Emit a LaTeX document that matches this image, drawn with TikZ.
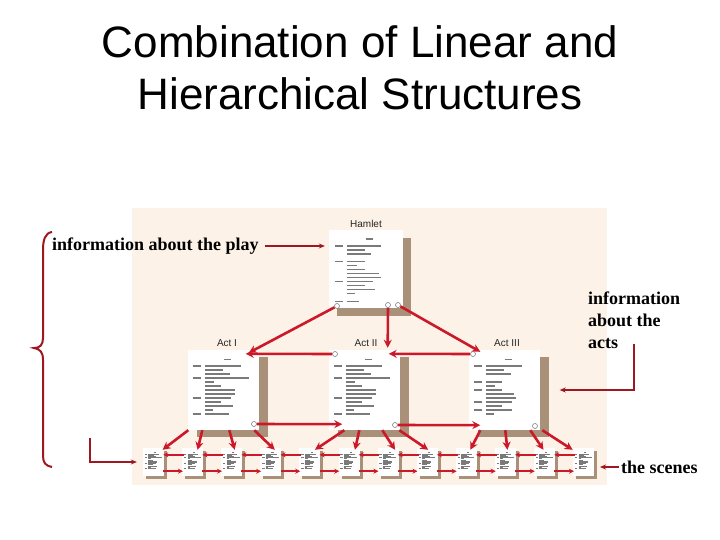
\documentclass[tikz,border=0pt]{standalone}
\usepackage{fontspec}
\setmainfont{Liberation Serif}
\setsansfont{Liberation Sans}
\usepackage{tikz}
\usetikzlibrary{arrows.meta,positioning,shadows}
\definecolor{arrred}{rgb}{0.80,0.10,0.16}
\definecolor{notered}{rgb}{0.62,0.09,0.13}
\definecolor{paper}{rgb}{0.99,0.95,0.91}
\definecolor{shade}{rgb}{0.66,0.57,0.47}
\definecolor{inkgray}{rgb}{0.48,0.48,0.48}
% rows of the pseudo text on the pages
\newcommand{\lntitle}{\par\noindent\hspace*{31pt}\rule{7pt}{1.5pt}\par\vspace{2.5pt}}
\newcommand{\lnhead}[1]{\par\noindent\rule{8pt}{1.5pt}\hspace{4pt}\rule{#1pt}{1.5pt}}
\newcommand{\lnmore}[1]{\par\noindent\hspace*{12pt}\rule{#1pt}{1.5pt}}
\newcommand{\lngap}{\par\vspace{4pt}}
\newcommand{\hamtext}{\lntitle
  \lnhead{34}\lnmore{18}\lnmore{24}\lngap
  \lnhead{18}\lnmore{10}\lnmore{18}\lnmore{32}\lnmore{34}
  \lnhead{26}\lnmore{18}\lnmore{28}\lnmore{8}\lngap
  \lnhead{12}}
\newcommand{\acttext}{\lntitle
  \lnhead{36}\lnmore{18}\lnmore{25}
  \lnhead{44}\lnmore{9}\lnmore{16}\lnmore{30}\lnmore{30}
  \lnhead{26}\lnmore{16}\lnmore{28}\lnmore{8}
  \lnhead{24}}
\newcommand{\actthreetext}{\lntitle
  \lnhead{36}\lnmore{18}\lnmore{25}\lngap
  \lnhead{16}\lnmore{9}
  \lnhead{16}\lnmore{28}\lnmore{30}
  \lnhead{26}\lnmore{16}
  \lnhead{26}\lnmore{8}}

\begin{document}
\begin{tikzpicture}[x=1pt, y=-1pt,
  hampage/.style={rectangle, fill=white, minimum width=74pt, minimum height=78pt, inner sep=0pt,
                  drop shadow={shadow xshift=8pt, shadow yshift=-8pt, fill=shade, opacity=1}},
  actpage/.style={rectangle, fill=white, minimum width=71pt, minimum height=80pt, inner sep=0pt,
                  drop shadow={shadow xshift=9pt, shadow yshift=-7pt, fill=shade, opacity=1}},
  scene/.style={rectangle, fill=white, minimum width=21pt, minimum height=28pt, inner sep=0pt,
                drop shadow={shadow xshift=3pt, shadow yshift=-3pt, fill=shade, opacity=1}},
  pagetext/.style={text width=58pt, align=left, inner sep=0pt, color=inkgray,
                   font=\fontsize{3}{4}\selectfont},
  hole/.style={circle, draw=gray, fill=white, line width=0.6pt, inner sep=0pt, minimum size=5pt},
  lbl/.style={font=\sffamily\fontsize{10}{12}\selectfont, text=black!85, inner sep=1pt},
  note/.style={font=\bfseries\fontsize{18}{22}\selectfont, inner sep=0pt},
  arr/.style={-{Stealth[length=8pt,width=8pt]}, line width=2.6pt, draw=arrred},
  sarr/.style={-{Stealth[length=5pt,width=5pt]}, line width=1.8pt, draw=arrred},
  notearr/.style={-{Stealth[length=6pt,width=5pt]}, line width=1.6pt, draw=notered},
]
\useasboundingbox (0,0) rectangle (720,540);
\fill[white] (0,0) rectangle (720,540);

% title
\node[font=\sffamily\fontsize{44}{52}\selectfont, align=center, inner sep=0pt, anchor=north]
  (title) at (360,25) {Combination of Linear and\\Hierarchical Structures};

% the board
\fill[paper] (132,208) rectangle (607,485);

% pages
\node[hampage] (hamlet) at (366,269) {};
\node[lbl, above=1pt of hamlet] (hamlab) {Hamlet};
\node[pagetext, anchor=north west] (hamtxt) at ([shift={(6,6)}]hamlet.north west) {\hamtext};

\node[actpage] (act1) at (223,390) {};
\node[actpage] (act2) at (364,390) {};
\node[actpage] (act3) at (504,390) {};
\node[lbl, above=2pt of act1, xshift=4pt] (lab1) {Act I};
\node[lbl, above=2pt of act2, xshift=2pt] (lab2) {Act II};
\node[lbl, above=2pt of act3, xshift=3pt] (lab3) {Act III};
\node[pagetext, anchor=north west] (txt1) at ([shift={(5,6)}]act1.north west) {\acttext};
\node[pagetext, anchor=north west] (txt2) at ([shift={(5,6)}]act2.north west) {\acttext};
\node[pagetext, anchor=north west] (txt3) at ([shift={(5,6)}]act3.north west) {\actthreetext};

\foreach \i in {1,...,12} {
  \node[scene] (s\i) at ({153.5+39.1*(\i-1)},462) {};
  \node[pagetext, scale=0.3, anchor=north west] (st\i) at ([shift={(2,3)}]s\i.north west) {\acttext};
}

% holes
\node[hole] (h1) at (337,306) {};
\node[hole] (h2) at (388,305) {};
\node[hole] (h3) at (398,305) {};
\node[hole] (a1b) at (254,424) {};
\node[hole] (a2t) at (335,354) {};
\node[hole] (a2b) at (395,425) {};
\node[hole] (a3t) at (473,354) {};
\node[hole] (a3b) at (535,426) {};

% hierarchy
\draw[arr] (h1) -- ([shift={(-10,3)}]act1.north east);
\draw[arr] (h2) -- ([shift={(-12,-2)}]act2.north east);
\draw[arr] (h3) -- ([shift={(12,2)}]act3.north west);
\draw[arr] (a2t) -- ([shift={(-13,4)}]act1.north east);
\draw[arr] (a3t) -- ([shift={(-11,4)}]act2.north east);
\draw[arr] (a1b) -- ([shift={(14,-6)}]act2.south west);
\draw[arr] (a2b) -- ([shift={(12,-5)}]act3.south west);

\foreach \a/\sx/\s/\ex in {act1/1/1/9, act1/15/2/5, act1/42/3/3, act1/67/4/4,
                           act2/16/5/5, act2/31/6/6, act2/54/7/7, act2/71/8/1,
                           act3/12/9/4, act3/37/10/2, act3/62/11/-1, act3/74/12/-11}
  \draw[arr] ([xshift=\sx pt]\a.south west) -- ([shift={(\ex,2)}]s\s.north);

% scenes in a row
\foreach \i [evaluate=\i as \j using int(\i+1)] in {1,...,11} {
  \draw[sarr] ([shift={(2,7)}]s\j.north west) -- ([shift={(-1,7)}]s\i.north east);
  \draw[sarr] ([shift={(-1,-5)}]s\i.south east) -- ([shift={(1,-5)}]s\j.south west);
}

% notes
\node[note, anchor=west] (play) at (52,246) {information about the play};
\draw[notearr, shorten <=6pt, shorten >=4pt] (play.east) -- (play.east -| hamlet.west);

\node[note, anchor=north west, align=left] (acts) at (588,292) {information\\about the\\acts};
\draw[notearr, shorten <=-5pt] (acts.south) |- ([xshift=20pt]act3.east);

\node[note, anchor=west] (scn) at (621,467) {the scenes};
\coordinate (scnend) at (600,467);
\draw[notearr, shorten <=2pt] (scn.west) -- (scnend);

\coordinate (lstart) at (90,438);
\draw[notearr] (lstart) |- ([xshift=-6pt]s1.west);

% brace
\draw[notered, line width=2pt] (52,232) .. controls (45,233) and (43,240) .. (43,250) -- (43,338)
  .. controls (43,345) and (40,348) .. (34,348) .. controls (40,349) and (43,352) .. (43,360)
  -- (43,456) .. controls (43,463) and (46,466) .. (52,467);
\end{tikzpicture}
\end{document}
